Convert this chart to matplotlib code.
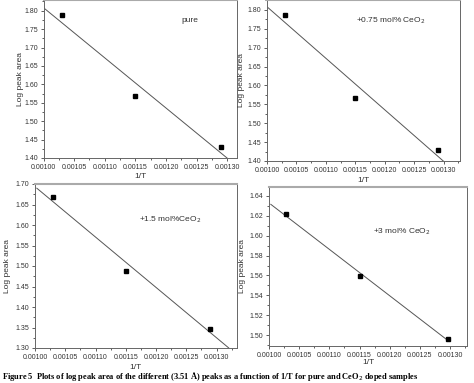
import numpy as np
import matplotlib
matplotlib.use("Agg")
import matplotlib.pyplot as plt
from matplotlib.ticker import MultipleLocator, AutoMinorLocator, FormatStrFormatter

plt.rcParams["font.family"] = ["Liberation Sans", "DejaVu Sans"]

# ---- data ----
inv_T = [0.00103, 0.00115, 0.00129]
log_pure = [1.787, 1.567, 1.430]
log_075 = [1.787, 1.567, 1.430]
log_15 = [1.668, 1.488, 1.347]
inv_T_3 = [0.001028, 0.00115, 0.001297]
log_3 = [1.622, 1.559, 1.496]

labels = ["pure", "+0.75 mol% CeO$_2$", "+1.5 mol%CeO$_2$", "+3 mol% CeO$_2$"]

W, H = 474, 383
fig = plt.figure(figsize=(W / 100, H / 100), dpi=100)


def px_axes(left, right, top, bottom):
    return fig.add_axes([left / W, (H - bottom) / H, (right - left) / W, (bottom - top) / H])


panels = [
    # box (l, r, t, b), x, y, xlim, ylim, ystep, fit range, label pos, ylabel x, xlabel y
    ((43.5, 236.5, 0, 158), inv_T, log_pure, (0.00100, 0.001315), (1.40, 1.829), 0.05,
     (0.00100, 0.0013), (0.76, 0.87), -0.10, -0.095),
    ((267, 460, 0, 161), inv_T, log_075, (0.00100, 0.001328), (1.40, 1.826), 0.05,
     (0.00100, 0.0013), (0.64, 0.87), -0.114, -0.10),
    ((35, 236.5, 184, 348), inv_T, log_15, (0.00100, 0.001333), (1.30, 1.70), 0.05,
     (0.001003, 0.00132), (0.67, 0.78), -0.119, -0.095),
    ((269, 467, 187, 346), inv_T_3, log_3, (0.00100, 0.001328), (1.489, 1.649), 0.02,
     (0.001003, 0.001297), (0.67, 0.72), -0.116, -0.082),
]

for (box, x, y, xlim, ylim, ystep, frange, lpos, ylx, xly), lab in zip(panels, labels):
    ax = px_axes(*box)
    k, b = np.polyfit(x, y, 1)
    xf = np.array(frange)
    ax.plot(xf, k * xf + b, color="#555555", lw=0.7)
    ax.plot(x, y, "s", color="black", ms=2.3)
    ax.set_xlim(*xlim)
    ax.set_ylim(*ylim)
    ax.xaxis.set_major_locator(MultipleLocator(0.00005))
    ax.xaxis.set_minor_locator(AutoMinorLocator(2))
    ax.yaxis.set_major_locator(MultipleLocator(ystep))
    ax.yaxis.set_minor_locator(AutoMinorLocator(2))
    ax.xaxis.set_major_formatter(FormatStrFormatter("%.5f"))
    ax.yaxis.set_major_formatter(FormatStrFormatter("%.2f"))
    ax.tick_params(which="both", direction="out", labelsize=5, color="#444444",
                   labelcolor="#333333", width=0.6, pad=1.5)
    ax.tick_params(which="major", length=2.5)
    ax.tick_params(which="minor", length=1.5)
    for s in ax.spines.values():
        s.set_color("#666666")
        s.set_linewidth(0.7)
    ax.spines["top"].set_color("#aaaaaa")
    ax.spines["top"].set_linewidth(1.5)
    ax.set_xlabel("1/T", fontsize=6, color="#333333")
    ax.set_ylabel("Log peak area", fontsize=6, color="#333333")
    ax.xaxis.set_label_coords(0.5, xly)
    ax.yaxis.set_label_coords(ylx, 0.5)
    ax.text(lpos[0], lpos[1], lab, transform=ax.transAxes, fontsize=6,
            color="#333333", ha="center", va="center")

fig.text(0.005, 0, "Figure 5  Plots of log peak area of the different (3.51 \u00c5) peaks "
         "as a function of 1/T for pure and CeO$_2$ doped samples",
         fontsize=6, family="Liberation Serif", weight="bold", color="black",
         ha="left", va="bottom")

fig.savefig("out.png", dpi=100, facecolor="white")
